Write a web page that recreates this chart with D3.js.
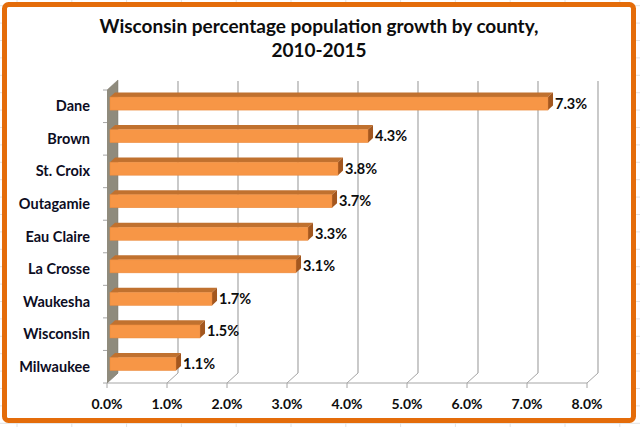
<!DOCTYPE html>
<html>
<head>
<meta charset="utf-8">
<script src="https://cdn.jsdelivr.net/npm/d3@7"></script>
<style>
  body { margin: 0; background: #fff; }
  svg { display: block; font-family: Lato, "Open Sans", sans-serif; }
</style>
</head>
<body>
<svg id="chart" width="640" height="427"></svg>
<script>
var counties = ['Dane', 'Brown', 'St. Croix', 'Outagamie', 'Eau Claire', 'La Crosse', 'Waukesha', 'Wisconsin', 'Milwaukee'];
var growth = [7.3, 4.3, 3.8, 3.7, 3.3, 3.1, 1.7, 1.5, 1.1];
var ticks = [0, 1, 2, 3, 4, 5, 6, 7, 8];
var titleLines = ['Wisconsin percentage population growth by county,', '2010-2015'];

var svg = d3.select('#chart');
var W = 640, H = 427;

// depth of the 3d box (back wall is shifted right/up)
var depthX = 11, depthY = -10;
var barFront = 0.27, barBack = 0.73;

var x = d3.scaleLinear().domain([0, 8]).range([107, 587]);
var y = d3.scaleBand().domain(counties).range([90, 383]).paddingInner(0.6).paddingOuter(0.3);
var yBottom = 383, yTop = 90;

// faint spreadsheet grid behind the chart
var grid = svg.append('g').attr('stroke', '#e2e2e2').attr('stroke-width', 1);
d3.range(17, W, 54.8).forEach(function (gx) {
  grid.append('line').attr('x1', gx).attr('x2', gx).attr('y1', 0).attr('y2', H);
});
d3.range(5.7, H, 17.4).forEach(function (gy) {
  grid.append('line').attr('x1', 0).attr('x2', W).attr('y1', gy).attr('y2', gy);
});

// chart frame
svg.append('rect')
  .attr('x', 4.5).attr('y', 4.5).attr('width', 629).attr('height', 416).attr('rx', 4)
  .attr('fill', '#fff').attr('stroke', '#E46C0A').attr('stroke-width', 5);

// title
svg.append('text')
  .attr('x', 319).attr('y', 33)
  .attr('text-anchor', 'middle')
  .style('font-size', '19px').style('font-weight', 'bold').attr('fill', '#0d0d0d')
  .selectAll('tspan').data(titleLines).join('tspan')
  .attr('x', 319).attr('dy', function (d, i) { return i ? 24 : 0; })
  .text(function (d) { return d; });

var plot = svg.append('g');

// back wall gridlines + floor diagonals
ticks.forEach(function (t) {
  var fx = x(t), bx = x(t) + depthX;
  if (t > 0) {
    plot.append('line').attr('x1', bx).attr('x2', bx).attr('y1', yTop + depthY + 1).attr('y2', yBottom + depthY)
      .attr('stroke', '#a6a6a6').attr('stroke-width', 1.2);
  }
  plot.append('line').attr('x1', fx).attr('x2', bx).attr('y1', yBottom).attr('y2', yBottom + depthY)
    .attr('stroke', '#a6a6a6').attr('stroke-width', 1);
  plot.append('line').attr('x1', fx).attr('x2', fx).attr('y1', yBottom).attr('y2', yBottom + 5)
    .attr('stroke', '#a6a6a6').attr('stroke-width', 1);
});

// front axis line
plot.append('line').attr('x1', x(0)).attr('x2', x(8)).attr('y1', yBottom).attr('y2', yBottom)
  .attr('stroke', '#a6a6a6').attr('stroke-width', 1);

// side wall
plot.append('path')
  .attr('d', d3.line()([[x(0), yTop], [x(0) + depthX, yTop + depthY], [x(0) + depthX, yBottom + depthY], [x(0), yBottom]]))
  .attr('fill', '#8f8b7d').attr('stroke', '#7f7b6e').attr('stroke-width', 0.5);

// category ticks on the wall edge
var cats = counties.map(function (c) { return y(c) - y.step() * y.paddingInner() / 2; }).concat([yBottom]);
cats.forEach(function (cy) {
  plot.append('line').attr('x1', x(0) - 4).attr('x2', x(0)).attr('y1', cy).attr('y2', cy)
    .attr('stroke', '#a6a6a6').attr('stroke-width', 1);
});

// bars
var bars = plot.selectAll('g.bar').data(counties).join('g').attr('class', 'bar');
bars.each(function (c, i) {
  var g = d3.select(this);
  var x0 = x(0) + depthX * barFront, x1 = x(growth[i]) + depthX * barFront;
  var y0 = y(c) + depthY * barFront, y1 = y0 + y.bandwidth();
  var ddx = depthX * (barBack - barFront), ddy = depthY * (barBack - barFront);
  // top face
  g.append('path').attr('d', d3.line()([[x0, y0], [x0 + ddx, y0 + ddy], [x1 + ddx, y0 + ddy], [x1, y0]]) + 'Z')
    .attr('fill', '#C0712F');
  // end face
  g.append('path').attr('d', d3.line()([[x1, y0], [x1 + ddx, y0 + ddy], [x1 + ddx, y1 + ddy], [x1, y1]]) + 'Z')
    .attr('fill', '#A3571F');
  // front face
  g.append('rect').attr('x', x0).attr('y', y0).attr('width', x1 - x0).attr('height', y1 - y0)
    .attr('fill', '#F79646').attr('stroke', '#E9883A').attr('stroke-width', 0.5);
  // value label
  g.append('text').attr('x', x1 + 7).attr('y', (y0 + y1) / 2 + 5)
    .style('font-size', '14.5px').style('font-weight', 'bold').attr('fill', '#0d0d0d')
    .text(growth[i].toFixed(1) + '%');
});

// category labels
plot.selectAll('text.cat').data(counties).join('text').attr('class', 'cat')
  .attr('x', 90).attr('y', function (c) { return y(c) + y.bandwidth() / 2 + 5; })
  .attr('text-anchor', 'end')
  .style('font-size', '14.5px').style('font-weight', 'bold').attr('fill', '#0d0d1f')
  .text(function (c) { return c; });

// x tick labels
plot.selectAll('text.tick').data(ticks).join('text').attr('class', 'tick')
  .attr('x', function (t) { return x(t); }).attr('y', 409)
  .attr('text-anchor', 'middle')
  .style('font-size', '14px').style('font-weight', 'bold').attr('fill', '#0d0d0d')
  .text(function (t) { return t.toFixed(1) + '%'; });
</script>
</body>
</html>
